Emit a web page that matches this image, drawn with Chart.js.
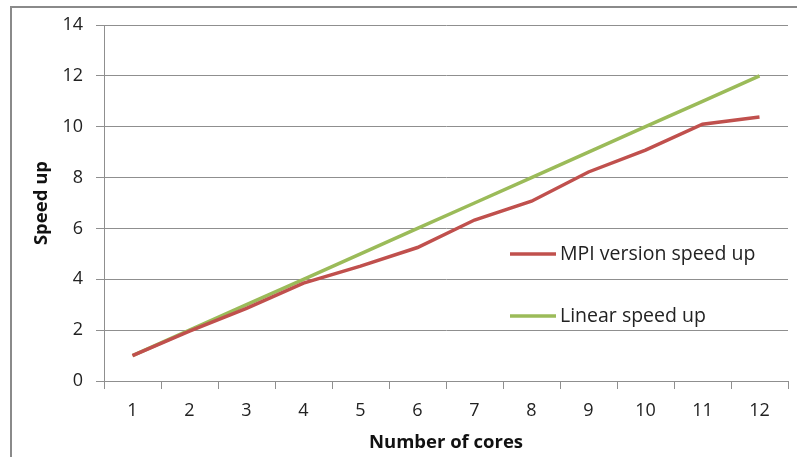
<!DOCTYPE html>
<html>
<head>
<meta charset="utf-8">
<script src="https://cdn.jsdelivr.net/npm/chart.js@4/dist/chart.umd.min.js"></script>
<style>
  html, body { margin: 0; padding: 0; background: #ffffff; }
  #wrap { width: 797px; height: 457px; position: relative; }
</style>
</head>
<body>
<div id="wrap"><canvas id="chart" width="797" height="457"></canvas></div>
<script>
// Number of cores on the x axis
const cores = ['1', '2', '3', '4', '5', '6', '7', '8', '9', '10', '11', '12'];
// Measured speed up of the MPI version
const mpiSpeedup = [1, 1.96, 2.86, 3.85, 4.52, 5.25, 6.33, 7.07, 8.22, 9.08, 10.1, 10.38];
// Ideal linear speed up
const linearSpeedup = [1, 2, 3, 4, 5, 6, 7, 8, 9, 10, 11, 12];
// Y axis range and step
const yMin = 0, yMax = 14, yStep = 2;

const FONT = '"Open Sans", "Liberation Sans", sans-serif';
const GRID = '#8f8f8f';

// Frame around the whole chart area
const framePlugin = {
  id: 'frame',
  beforeDraw(chart) {
    const ctx = chart.ctx;
    ctx.save();
    ctx.strokeStyle = '#8a8a8a';
    ctx.lineWidth = 2;
    ctx.strokeRect(11, 7, 1000, 1000);
    ctx.restore();
  }
};

// Legend drawn inside the plot, to the right of the lines
const insideLegend = {
  id: 'insideLegend',
  afterDraw(chart) {
    const ctx = chart.ctx;
    const rows = [254, 316];
    ctx.save();
    ctx.font = '19.5px ' + FONT;
    ctx.textBaseline = 'middle';
    ctx.textAlign = 'left';
    chart.data.datasets.forEach((ds, i) => {
      const y = rows[i];
      ctx.strokeStyle = ds.borderColor;
      ctx.lineWidth = 3.5;
      ctx.beginPath();
      ctx.moveTo(510, y);
      ctx.lineTo(556, y);
      ctx.stroke();
      ctx.fillStyle = '#222222';
      ctx.fillText(ds.label, 560, y);
    });
    ctx.restore();
  }
};

new Chart(document.getElementById('chart'), {
  type: 'line',
  data: {
    labels: cores,
    datasets: [
      {
        label: 'MPI version speed up',
        data: mpiSpeedup,
        borderColor: '#C0504D',
        borderWidth: 3.5,
        pointRadius: 0,
        tension: 0
      },
      {
        label: 'Linear speed up',
        data: linearSpeedup,
        borderColor: '#9BBB59',
        borderWidth: 3.5,
        pointRadius: 0,
        tension: 0
      }
    ]
  },
  options: {
    responsive: false,
    animation: false,
    events: [],
    layout: { padding: { left: 0, right: 9, top: 25, bottom: 0 } },
    plugins: {
      legend: { display: false },
      tooltip: { enabled: false }
    },
    scales: {
      x: {
        type: 'category',
        offset: true,
        afterFit(scale) { scale.height = 76; },
        grid: {
          offset: true,
          drawOnChartArea: false,
          drawTicks: true,
          tickLength: 8,
          color: GRID,
          lineWidth: 1
        },
        border: { display: true, color: GRID, width: 1 },
        ticks: {
          color: '#222222',
          padding: 11,
          font: { family: FONT, size: 18 }
        },
        title: {
          display: true,
          text: 'Number of cores',
          color: '#111111',
          padding: { top: 0, bottom: 3 },
          font: { family: FONT, size: 18.5, weight: 'bold' }
        }
      },
      y: {
        min: yMin,
        max: yMax,
        afterFit(scale) { scale.width = 104; },
        grid: {
          drawTicks: true,
          tickLength: 8,
          color: GRID,
          lineWidth: 1
        },
        border: { display: true, color: GRID, width: 1 },
        ticks: {
          stepSize: yStep,
          color: '#222222',
          padding: 13,
          font: { family: FONT, size: 18 }
        },
        title: {
          display: true,
          text: 'Speed up',
          color: '#111111',
          padding: { top: 31, bottom: 0 },
          font: { family: FONT, size: 18.5, weight: 'bold' }
        }
      }
    }
  },
  plugins: [framePlugin, insideLegend]
});
</script>
</body>
</html>
